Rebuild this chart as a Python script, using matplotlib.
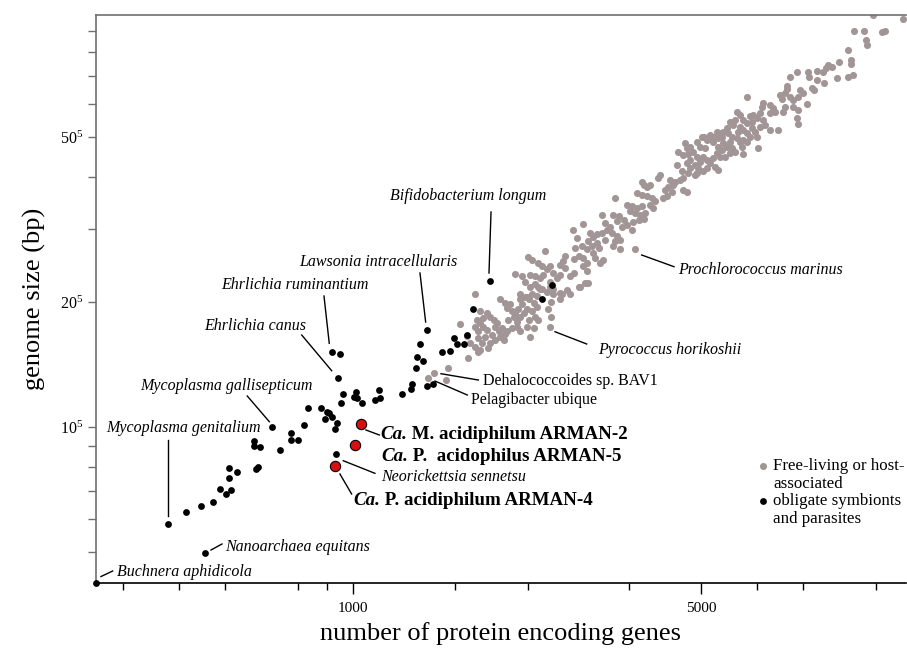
import matplotlib
matplotlib.use("Agg")
import matplotlib.pyplot as plt
from matplotlib.ticker import FixedLocator, NullFormatter

plt.rcParams['font.family'] = ['Liberation Serif', 'DejaVu Serif']
plt.rcParams['mathtext.fontset'] = 'custom'
plt.rcParams['mathtext.rm'] = 'Liberation Serif'
plt.rcParams['mathtext.it'] = 'Liberation Serif:italic'

# free-living or host-associated genomes: protein genes vs genome size (Mb)
free_genes = [
    11040, 12710, 10130, 10620, 11510, 11680, 10700, 10770, 9860, 9460,
    9985, 9985, 8990, 9130, 8900, 9860, 10090, 9350, 8520, 8790,
    8200, 8235, 7770, 7530, 8520, 8815, 8330, 8430, 7420, 7440,
    7360, 7890, 8010, 7830, 7530, 7650, 7190, 7250, 6170, 6660,
    6610, 6870, 6975, 7030, 6870, 7360, 7300, 7650, 7830, 7770,
    8140, 7830, 7140, 6870, 6560, 6460, 6360, 6660, 6710, 6560,
    6260, 6310, 6170, 6070, 5890, 5980, 5840, 5710, 5800, 5980,
    6070, 5930, 6170, 6310, 6410, 6260, 6460, 5620, 5535, 5665,
    5495, 5755, 5890, 5710, 5980, 6070, 6170, 6025, 6070, 6510,
    5370, 5450, 5285, 5410, 5205, 5130, 5285, 5050, 5535, 5625,
    5495, 5410, 5755, 5845, 5370, 5450, 5285, 5580, 5710, 5010,
    4895, 4970, 5085, 4640, 4675, 4745, 4495, 4600, 4710, 4820,
    4895, 5045, 5130, 4970, 5205, 5325, 5410, 4745, 4675, 4855,
    4745, 4930, 5045, 5130, 4465, 4565, 4710, 4855, 4895, 4600,
    4530, 4430, 4325, 4395, 4295, 4230, 4360, 4260, 4195, 4130,
    4100, 4600, 4675, 3795, 3830, 3885, 3945, 3710, 3795, 3885,
    3975, 4035, 3945, 4005, 3540, 3625, 3710, 3795, 3595, 3680,
    3765, 3855, 3830, 3740, 3640, 3625, 3355, 3330, 3410, 3490,
    3385, 3460, 3540, 3155, 3205, 3280, 3230, 3155, 3085, 3305,
    3385, 3435, 2900, 2760, 2810, 2990, 3035, 2965, 3085, 3015,
    3110, 2945, 2875, 3330, 3435, 3355, 3205, 3680, 2790, 2835,
    2900, 2770, 2945, 2900, 2945, 3180, 3130, 3060, 3035, 2665,
    2640, 2605, 2665, 2605, 2525, 2570, 2485, 2430, 2240, 2290,
    2355, 2390, 2485, 2450, 2115, 2180, 2265, 2320, 2375, 2410,
    2215, 2265, 2320, 2355, 2390, 2450, 2525, 2605, 2685, 2725,
    2835, 2920, 2965, 1760, 2165, 2235, 2335, 1640, 1695, 1785,
    1720, 1760, 1785, 1705, 1550, 1455, 1415, 1535, 1800, 1855,
    1825, 1885, 1915, 1945, 1930, 1960, 1990, 2020, 1975, 2005,
    1930, 1900, 1855, 1825, 1800, 1770, 1760, 1785, 1840, 1885,
    1815, 1870, 1800, 1975, 2020, 2065, 2035, 2080, 2115, 2100,
    2050, 2130, 2165, 2145, 2200, 2230, 2180, 2165, 2215, 2250,
    2290, 2305, 2340, 2290, 2320, 2355, 2250, 2230, 2305, 2265,
    2165, 2130, 2080, 2035, 2375, 2485, 2525, 2625, 2605, 2500,
    2465, 2500, 2490, 2720, 2770, 2855,
]
free_mb = [
    9.83, 9.60, 9.01, 9.00, 8.93, 8.98, 8.56, 8.33, 8.10, 7.59,
    7.66, 7.48, 7.45, 7.38, 7.31, 6.96, 7.05, 6.94, 7.22, 7.18,
    7.15, 6.98, 7.18, 6.96, 6.86, 6.75, 6.54, 6.49, 6.63, 6.51,
    6.37, 6.49, 6.37, 6.25, 6.25, 6.14, 6.31, 6.16, 6.23, 6.02,
    5.91, 5.97, 5.86, 5.75, 5.70, 5.91, 5.75, 5.91, 5.81, 5.54,
    6.00, 5.37, 5.20, 5.20, 5.70, 5.54, 5.65, 5.49, 5.34, 5.29,
    5.60, 5.44, 5.39, 5.49, 5.75, 5.65, 5.49, 5.44, 5.34, 5.29,
    5.20, 5.15, 5.10, 5.25, 5.15, 5.00, 5.00, 5.25, 5.15, 5.10,
    5.00, 5.00, 4.96, 4.87, 4.87, 4.92, 4.87, 4.74, 4.55, 4.69,
    5.15, 5.10, 5.00, 4.96, 5.05, 4.92, 4.87, 4.99, 4.83, 4.74,
    4.65, 4.74, 4.69, 4.61, 4.57, 4.48, 4.44, 4.48, 4.57, 5.00,
    4.87, 4.74, 4.69, 4.84, 4.69, 4.74, 4.59, 4.53, 4.55, 4.59,
    4.48, 4.48, 4.40, 4.36, 4.32, 4.23, 4.17, 4.40, 4.32, 4.28,
    4.20, 4.20, 4.13, 4.20, 4.28, 4.13, 4.09, 4.05, 4.09, 3.98,
    3.94, 3.90, 3.94, 3.83, 3.79, 3.73, 3.69, 3.60, 3.57, 4.05,
    3.98, 3.72, 3.69, 3.90, 3.83, 3.79, 3.83, 3.66, 3.63, 3.60,
    3.57, 3.50, 3.43, 3.37, 3.43, 3.40, 3.37, 3.40, 3.31, 3.28,
    3.25, 3.28, 3.17, 3.16, 3.11, 2.99, 3.57, 3.25, 3.22, 3.16,
    3.13, 3.04, 3.07, 3.25, 3.10, 3.04, 2.99, 2.94, 2.91, 2.94,
    2.88, 2.83, 3.09, 2.98, 2.86, 2.94, 2.87, 2.80, 2.78, 2.73,
    2.70, 2.68, 2.73, 2.73, 2.68, 2.80, 2.83, 2.69, 2.70, 2.58,
    2.55, 2.54, 2.48, 2.44, 2.37, 2.53, 2.48, 2.55, 2.63, 2.58,
    2.51, 2.46, 2.42, 2.33, 2.35, 2.29, 2.23, 2.65, 2.57, 2.53,
    2.48, 2.44, 2.44, 2.40, 2.34, 2.31, 2.33, 2.31, 2.28, 2.32,
    2.23, 2.18, 2.21, 2.18, 2.15, 2.12, 2.15, 2.10, 2.14, 2.09,
    2.18, 2.22, 2.22, 2.09, 2.09, 2.06, 2.07, 1.77, 1.66, 1.64,
    1.59, 1.56, 1.52, 1.47, 1.39, 1.35, 1.31, 1.30, 1.90, 1.88,
    1.83, 1.84, 1.81, 1.78, 1.74, 1.70, 1.73, 1.68, 1.65, 1.62,
    1.62, 1.67, 1.71, 1.74, 1.78, 1.81, 1.74, 1.70, 1.65, 1.59,
    1.59, 1.55, 1.53, 2.03, 1.99, 1.98, 1.94, 1.90, 1.88, 1.84,
    1.81, 1.79, 1.84, 1.92, 1.88, 1.93, 1.98, 2.03, 2.06, 2.03,
    2.09, 1.99, 1.95, 1.90, 1.84, 1.81, 1.81, 1.74, 1.73, 1.65,
    1.70, 1.74, 1.73, 1.70, 2.15, 2.17, 2.09, 2.09, 2.03, 2.00,
    1.93, 1.84, 1.74, 2.31, 2.35, 2.18,
]

# obligate symbionts and parasites
sym_genes = [
    305, 504, 426, 463, 495, 524, 540, 555, 569, 565,
    565, 586, 633, 633, 650, 645, 639, 715, 688, 750,
    750, 777, 798, 811, 861, 885, 896, 879, 906, 927,
    920, 907, 942, 932, 956, 946, 1014, 1005, 1017, 1041,
    1129, 1133, 1107, 1253, 1306, 1315, 1336, 1342, 1380, 1363,
    1408, 1406, 1444, 1512, 1568, 1593, 1615, 1673, 1694, 1738,
    1884, 2393, 2506, 924,
]
sym_mb = [
    0.422, 0.497, 0.585, 0.623, 0.647, 0.661, 0.710, 0.691, 0.707, 0.755,
    0.796, 0.781, 0.923, 0.900, 0.896, 0.799, 0.792, 0.882, 1.000, 0.966,
    0.929, 0.930, 1.011, 1.111, 1.111, 1.085, 1.083, 1.044, 1.055, 1.024,
    0.989, 1.514, 1.499, 1.315, 1.199, 1.144, 1.212, 1.179, 1.173, 1.141,
    1.230, 1.173, 1.160, 1.203, 1.232, 1.269, 1.385, 1.472, 1.442, 1.582,
    1.713, 1.257, 1.269, 1.518, 1.524, 1.639, 1.582, 1.582, 1.666, 1.930,
    2.252, 2.031, 2.203, 0.861,
]

# ARMAN genomes
arman_genes = [1036, 1008, 922]
arman_mb = [1.019, 0.906, 0.805]

x_major = [1000, 5000]
x_major_labels = ['1000', '5000']
x_minor = [345, 447, 553, 776, 886, 1603, 2246, 3580, 6468, 8000, 11206]
y_major = [1, 2, 5]
y_major_labels = ['10$^5$', '20$^5$', '50$^5$']
y_minor = [0.5, 0.6, 0.7, 0.8, 0.9, 3, 4, 6, 7, 8, 9]

# italic species labels: text, text centre, leader line (axes fraction)
species_labels = [
    ('Bifidobacterium longum', (0.4593, 0.6813), (0.4877, 0.6532, 0.4852, 0.5458)),
    ('Lawsonia intracellularis', (0.3481, 0.5651), (0.4000, 0.5458, 0.4070, 0.4595)),
    ('Ehrlichia ruminantium', (0.2457, 0.5246), (0.2815, 0.5053, 0.2880, 0.4220)),
    ('Ehrlichia canus', (0.1963, 0.4525), (0.2540, 0.4366, 0.2910, 0.3738)),
    ('Mycoplasma gallisepticum', (0.1605, 0.3468), (0.1868, 0.3292, 0.2140, 0.2840)),
    ('Mycoplasma genitalium', (0.1086, 0.2729), (0.0895, 0.2518, 0.0895, 0.1180)),
    ('Nanoarchaea equitans', (0.2494, 0.0634), (0.1420, 0.0581, 0.1556, 0.0687)),
    ('Buchnera aphidicola', (0.1093, 0.0200), (0.0062, 0.0114, 0.0206, 0.0211)),
    ('Pyrococcus horikoshii', (0.7080, 0.4102), (0.5667, 0.4424, 0.6058, 0.4208)),
    ('Prochlorococcus marinus', (0.8198, 0.5511), (0.6737, 0.5775, 0.7136, 0.5569)),
]
plain_labels = [
    ('Dehalococcoides sp. BAV1', (0.5852, 0.3556), (0.4259, 0.3685, 0.4720, 0.3574)),
    ('Pelagibacter ubique', (0.5407, 0.3222), (0.4185, 0.3556, 0.4584, 0.3310)),
]

fig = plt.figure(figsize=(9.07, 6.48), dpi=100)
ax = fig.add_axes([0.1058, 0.1003, 0.8931, 0.8765])
ax.set_xscale('log')
ax.set_yscale('log')
ax.set_xlim(305, 12870)
ax.set_ylim(0.421, 9.83)

ax.scatter(free_genes, free_mb, s=26, color='#a29595', linewidths=0, zorder=2)
ax.scatter(sym_genes, sym_mb, s=24, color='black', linewidths=0, zorder=3, clip_on=False)
ax.scatter(arman_genes, arman_mb, s=55, color='#d41010', edgecolors='black',
           linewidths=0.8, zorder=4)

for text, (tx, ty), (x0, y0, x1, y1) in species_labels:
    ax.text(tx, ty, text, transform=ax.transAxes, ha='center', va='center',
            fontsize=11.5, style='italic')
    ax.plot([x0, x1], [y0, y1], transform=ax.transAxes, color='black', lw=1)
for text, (tx, ty), (x0, y0, x1, y1) in plain_labels:
    ax.text(tx, ty, text, transform=ax.transAxes, ha='center', va='center',
            fontsize=11.5)
    ax.plot([x0, x1], [y0, y1], transform=ax.transAxes, color='black', lw=1)

# ARMAN labels (bold, "Ca." bold italic)
arman_labels = [
    (' M. acidiphilum ARMAN-2', (0.3506, 0.2606)),
    (' P.  acidophilus ARMAN-5', (0.3519, 0.2236)),
    (' P. acidiphilum ARMAN-4', (0.3177, 0.1461)),
]
for rest, (tx, ty) in arman_labels:
    t1 = ax.text(tx, ty, 'Ca.', transform=ax.transAxes, ha='left', va='center',
                 fontsize=13.6, fontweight='bold', style='italic')
    ax.annotate(rest, xy=(1, 0), xycoords=t1, ha='left', va='bottom',
                fontsize=13.6, fontweight='bold')
ax.plot([0.3333, 0.3498], [0.2694, 0.2606], transform=ax.transAxes, color='black', lw=1)
ax.plot([0.3012, 0.3156], [0.1919, 0.1567], transform=ax.transAxes, color='black', lw=1)
ax.text(0.3519, 0.1866, 'Neorickettsia sennetsu', transform=ax.transAxes,
        ha='left', va='center', fontsize=11.5, style='italic')
ax.plot([0.3053, 0.3444], [0.2153, 0.1931], transform=ax.transAxes, color='black', lw=1)

# legend drawn by hand
legend_lines = [
    ('Free-living or host-', 0.2060),
    ('associated', 0.1743),
    ('obligate symbionts', 0.1444),
    ('and parasites', 0.1127),
]
ax.scatter([0.8235], [0.2060], s=26, color='#a29595', linewidths=0, transform=ax.transAxes)
ax.scatter([0.8235], [0.1444], s=24, color='black', linewidths=0, transform=ax.transAxes)
for text, ty in legend_lines:
    ax.text(0.8358, ty, text, transform=ax.transAxes, ha='left', va='center',
            fontsize=12.2)

# axes styling
ax.xaxis.set_major_locator(FixedLocator(x_major))
ax.set_xticklabels(x_major_labels)
ax.xaxis.set_minor_locator(FixedLocator(x_minor))
ax.xaxis.set_minor_formatter(NullFormatter())
ax.yaxis.set_major_locator(FixedLocator(y_major))
ax.set_yticklabels(y_major_labels)
ax.yaxis.set_minor_locator(FixedLocator(y_minor))
ax.yaxis.set_minor_formatter(NullFormatter())

ax.tick_params(axis='x', which='major', length=8, width=1, color='black',
               labelsize=11, pad=6)
ax.tick_params(axis='x', which='minor', length=5, width=1, color='black')
ax.tick_params(axis='y', which='both', length=6, width=1, color='#707070',
               labelsize=11.5, pad=3)

ax.spines['right'].set_visible(False)
ax.spines['top'].set_color('#707070')
ax.spines['left'].set_color('#707070')
ax.spines['bottom'].set_color('black')
for side in ['top', 'left', 'bottom']:
    ax.spines[side].set_linewidth(1.2)

ax.set_xlabel('number of protein encoding genes', fontsize=19, labelpad=5)
ax.set_ylabel('genome size (bp)', fontsize=19, labelpad=10)

fig.savefig('out.png', dpi=100)
